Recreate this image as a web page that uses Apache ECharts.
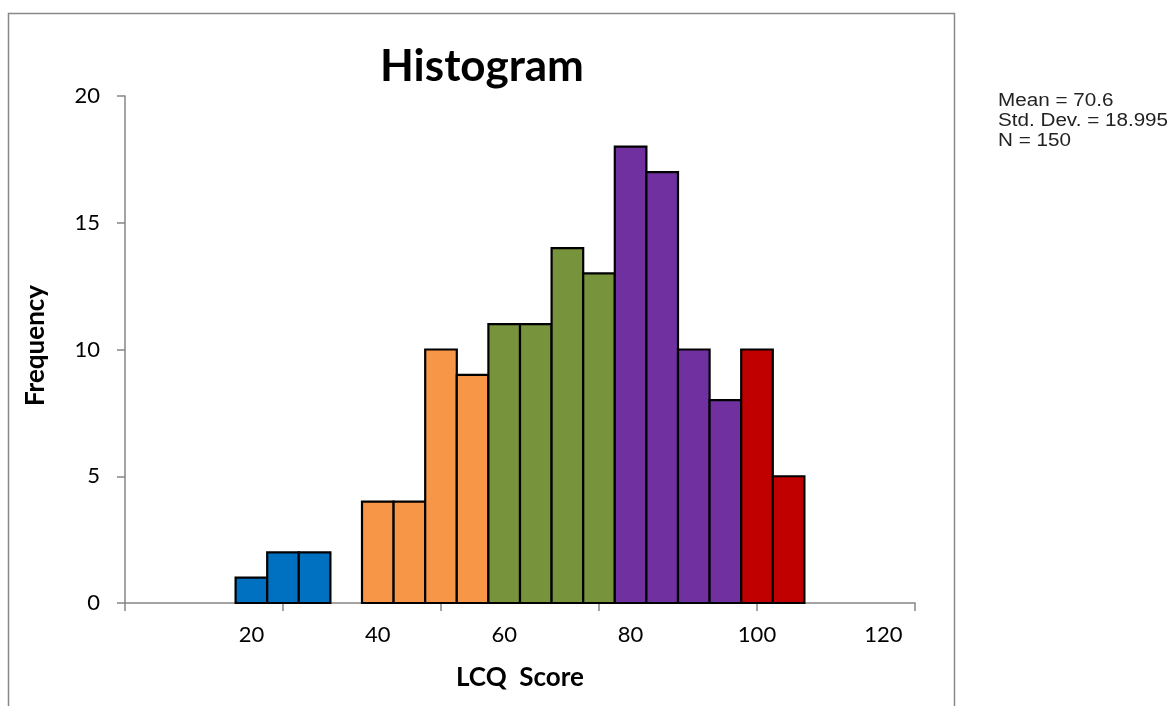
<!DOCTYPE html>
<html>
<head>
<meta charset="utf-8">
<script src="https://cdn.jsdelivr.net/npm/echarts@6/dist/echarts.min.js"></script>
<style>
html,body{margin:0;padding:0;background:#fff;}
#chart{width:1173px;height:706px;}
</style>
</head>
<body>
<div id="chart"></div>
<script>
// Bin centres (LCQ score), bin width 5
var binCenters = [20, 25, 30, 35, 40, 45, 50, 55, 60, 65, 70, 75, 80, 85, 90, 95, 100, 105];
var frequencies = [1, 2, 2, 0, 4, 4, 10, 9, 11, 11, 14, 13, 18, 17, 10, 8, 10, 5];
var binWidth = 5;
var xTickLabels = [20, 40, 60, 80, 100, 120];
var yTickValues = [0, 5, 10, 15, 20];
var statsLines = ['Mean = 70.6', 'Std. Dev. = 18.995', 'N = 150'];

var palette = { blue: '#0070C0', orange: '#F79646', green: '#77933C', purple: '#7030A0', red: '#C00000' };
function colorFor(x) {
  if (x < 36) return palette.blue;
  if (x < 58) return palette.orange;
  if (x < 78) return palette.green;
  if (x < 98) return palette.purple;
  return palette.red;
}

var chart = echarts.init(document.getElementById('chart'), null, { renderer: 'canvas' });
var FONT = 'Lato, "Open Sans", sans-serif';
var axisGray = '#868686';

var seriesData = binCenters.map(function (c, i) { return [c, frequencies[i]]; });

chart.setOption({
  animation: false,
  backgroundColor: '#ffffff',
  title: {
    text: 'Histogram',
    left: 477, top: 40, textAlign: 'center',
    textStyle: { fontFamily: FONT, fontSize: 44, fontWeight: 'bold', color: '#000' }
  },
  grid: { left: 125, right: 258, top: 96, bottom: 103, containLabel: false },
  xAxis: [{
    type: 'value', min: 0, max: 125, interval: 25, position: 'bottom',
    axisLine: { show: true, onZero: false, lineStyle: { color: axisGray, width: 1.5 } },
    axisTick: { show: true, inside: false, length: 8, lineStyle: { color: axisGray, width: 1.5 } },
    axisLabel: { show: false },
    splitLine: { show: false }
  }, {
    type: 'value', min: 0, max: 125, interval: 20, position: 'bottom', offset: 0,
    name: 'LCQ  Score', nameLocation: 'middle', nameGap: 62,
    nameTextStyle: { fontFamily: FONT, fontSize: 26, fontWeight: 'bold', color: '#000' },
    axisLine: { show: false }, axisTick: { show: false }, splitLine: { show: false },
    axisLabel: {
      show: true, margin: 21, fontFamily: FONT, fontSize: 22, color: '#000',
      formatter: function (v) { return xTickLabels.indexOf(v) >= 0 ? String(v) : ''; }
    }
  }],
  yAxis: {
    type: 'value', min: 0, max: 20, interval: 5,
    name: 'Frequency', nameLocation: 'middle', nameGap: 76, nameRotate: 90,
    nameTextStyle: { fontFamily: FONT, fontSize: 26, fontWeight: 'bold', color: '#000', padding: [0, 0, 0, 8] },
    axisLine: { show: true, lineStyle: { color: axisGray, width: 1.5 } },
    axisTick: { show: true, inside: false, length: 8, lineStyle: { color: axisGray, width: 1.5 } },
    axisLabel: {
      margin: 25, fontFamily: FONT, fontSize: 22, color: '#000',
      formatter: function (v) { return yTickValues.indexOf(v) >= 0 ? String(v) : ''; }
    },
    splitLine: { show: false }
  },
  graphic: [{
    type: 'rect', shape: { x: 8.5, y: 13.5, width: 946, height: 760 },
    style: { fill: 'none', stroke: '#888888', lineWidth: 1.5 }, silent: true, z: -1
  }, {
    type: 'text', x: 998, y: 91, scaleX: 1.18,
    style: { text: statsLines.join('\n'), font: '17.5px "Liberation Sans", Arial, sans-serif', lineHeight: 20, fill: '#222' }
  }],
  series: [{
    type: 'custom',
    xAxisIndex: 0, yAxisIndex: 0,
    data: seriesData,
    renderItem: function (params, api) {
      var x = api.value(0), y = api.value(1);
      if (y <= 0) return null;
      var p0 = api.coord([x - binWidth / 2, y]);
      var p1 = api.coord([x + binWidth / 2, 0]);
      return {
        type: 'rect',
        shape: { x: p0[0], y: p0[1], width: p1[0] - p0[0], height: p1[1] - p0[1] },
        style: { fill: colorFor(x), stroke: '#000', lineWidth: 2.2 }
      };
    }
  }]
});
</script>
</body>
</html>
